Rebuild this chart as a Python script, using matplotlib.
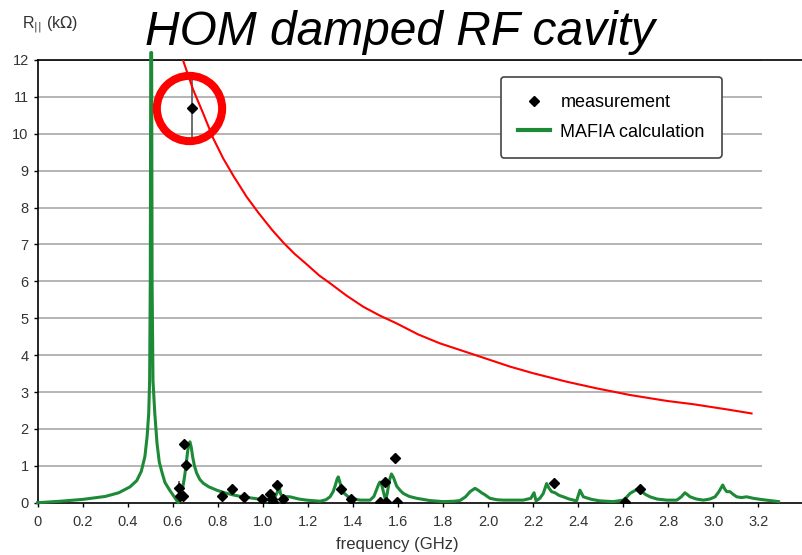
import numpy as np
import matplotlib
matplotlib.use("Agg")
import matplotlib.pyplot as plt

plt.rcParams['font.family'] = ['Liberation Sans', 'DejaVu Sans']

# MAFIA calculation (GHz, kOhm)
mafia_f = [0.0, 0.1, 0.2, 0.3, 0.36, 0.41, 0.44, 0.46, 0.476, 0.486,
           0.493, 0.497, 0.500, 0.502, 0.506, 0.508, 0.512, 0.52, 0.53, 0.54,
           0.553, 0.565, 0.585, 0.602, 0.615, 0.624, 0.635, 0.644, 0.652, 0.658,
           0.665, 0.671, 0.676, 0.682, 0.688, 0.696, 0.706, 0.72, 0.735, 0.76,
           0.795, 0.83, 0.869, 0.91, 0.957, 0.99, 1.017, 1.04, 1.054, 1.065,
           1.073, 1.078, 1.085, 1.12, 1.16, 1.194, 1.254, 1.28, 1.298, 1.312,
           1.322, 1.33, 1.335, 1.342, 1.35, 1.362, 1.379, 1.40, 1.431, 1.476,
           1.493, 1.505, 1.514, 1.52, 1.528, 1.535, 1.545, 1.552, 1.557, 1.564,
           1.571, 1.58, 1.594, 1.61, 1.624, 1.65, 1.683, 1.74, 1.80, 1.85,
           1.875, 1.9, 1.92, 1.942, 1.958, 1.971, 1.985, 2.008, 2.04, 2.067,
           2.11, 2.156, 2.19, 2.204, 2.213, 2.23, 2.245, 2.26, 2.27, 2.282,
           2.297, 2.315, 2.334, 2.36, 2.393, 2.408, 2.423, 2.46, 2.497, 2.556,
           2.60, 2.615, 2.63, 2.66, 2.682, 2.70, 2.719, 2.75, 2.793, 2.838,
           2.858, 2.874, 2.885, 2.897, 2.925, 2.956, 2.985, 3.008, 3.025, 3.042,
           3.052, 3.06, 3.074, 3.09, 3.104, 3.125, 3.148, 3.178, 3.21, 3.237,
           3.265, 3.29]
mafia_R = [0.0, 0.04, 0.09, 0.17, 0.27, 0.43, 0.6, 0.85, 1.25, 1.8,
           2.42, 3.3, 6.0, 12.2, 12.2, 6.0, 3.3, 2.42, 1.6, 1.1,
           0.8, 0.55, 0.35, 0.2, 0.08, 0.0, 0.2, 0.41, 0.7, 0.98,
           1.35, 1.6, 1.65, 1.5, 1.25, 1.0, 0.8, 0.63, 0.53, 0.43,
           0.34, 0.27, 0.21, 0.16, 0.12, 0.09, 0.07, 0.1, 0.16, 0.3,
           0.43, 0.25, 0.17, 0.16, 0.1, 0.07, 0.04, 0.08, 0.16, 0.3,
           0.48, 0.65, 0.7, 0.55, 0.39, 0.25, 0.16, 0.11, 0.07, 0.07,
           0.17, 0.36, 0.5, 0.56, 0.48, 0.3, 0.07, 0.25, 0.43, 0.65,
           0.78, 0.68, 0.45, 0.33, 0.25, 0.17, 0.12, 0.06, 0.03, 0.04,
           0.06, 0.16, 0.3, 0.39, 0.33, 0.27, 0.22, 0.12, 0.08, 0.07,
           0.07, 0.07, 0.12, 0.27, 0.05, 0.12, 0.25, 0.52, 0.4, 0.3,
           0.27, 0.2, 0.16, 0.1, 0.05, 0.34, 0.16, 0.09, 0.05, 0.03,
           0.07, 0.15, 0.25, 0.36, 0.3, 0.22, 0.16, 0.1, 0.07, 0.07,
           0.16, 0.27, 0.22, 0.16, 0.1, 0.07, 0.1, 0.16, 0.3, 0.48,
           0.36, 0.3, 0.3, 0.22, 0.16, 0.14, 0.16, 0.12, 0.09, 0.07,
           0.05, 0.03]

# measured points
meas_f = [0.684, 0.628, 0.63, 0.645, 0.65, 0.658, 0.819, 0.864, 0.916, 0.997, 1.032,
          1.04, 1.045, 1.063, 1.09, 1.345, 1.39, 1.52, 1.542, 1.546, 1.587, 1.597,
          2.293, 2.61, 2.673]
meas_R = [10.69, 0.39, 0.18, 0.17, 1.6, 1.02, 0.18, 0.36, 0.15, 0.09, 0.24,
          0.1, 0.03, 0.48, 0.09, 0.37, 0.1, 0.01, 0.55, 0.01, 1.2, 0.01,
          0.54, 0.01, 0.38]
err_lo = [0.77, 0.32] + [0.0] * 23
err_hi = [0.78, 0.21] + [0.0] * 23

# red threshold curve
limit_f = [0.645, 0.69, 0.735, 0.78, 0.824, 0.87, 0.928, 0.98, 1.04, 1.091,
           1.14, 1.195, 1.25, 1.298, 1.37, 1.446, 1.52, 1.594, 1.69, 1.786,
           1.92, 2.097, 2.20, 2.349, 2.482, 2.63, 2.793, 2.911, 3.06, 3.17]
limit_R = [12.0, 11.2, 10.55, 9.87, 9.33, 8.85, 8.29, 7.86, 7.4, 7.05,
           6.75, 6.46, 6.16, 5.95, 5.62, 5.31, 5.07, 4.86, 4.56, 4.32,
           4.05, 3.69, 3.51, 3.28, 3.10, 2.92, 2.76, 2.67, 2.53, 2.42]

xticks = np.arange(0, 3.21, 0.2)
xlabels = ['0'] + ['%.1f' % v for v in xticks[1:]]

fig = plt.figure(figsize=(8.02, 5.55), dpi=100)
ax = fig.add_axes([0.047, 0.0942, 0.953, 0.7977])
ax.set_xlim(0, 3.394)
ax.set_ylim(0, 12)

ax.hlines(range(1, 13), 0, 3.215, color='#b4b4b4', lw=1.4, zorder=1)

green = '#1d8a37'
ax.plot(mafia_f, mafia_R, color=green, lw=2.2, zorder=3, clip_on=False,
        solid_joinstyle='round', label='MAFIA calculation')
ax.errorbar(meas_f, meas_R, yerr=[err_lo, err_hi], fmt='none', ecolor='#555555',
            elinewidth=1.2, capsize=0, zorder=4)
ax.plot(meas_f, meas_R, 'D', color='black', ms=5.5, ls='none', zorder=5,
        label='measurement')
ax.plot(limit_f, limit_R, color='red', lw=1.5, zorder=6, solid_joinstyle='round')
# red ring around the highest measurement
ax.plot(meas_f[0] - 0.012, meas_R[0], 'o', ms=47, mfc='none', mec='red', mew=5.8,
        zorder=7, clip_on=False)

ax.set_xticks(xticks)
ax.set_xticklabels(xlabels)
ax.set_yticks(range(0, 13))
ax.tick_params(axis='both', labelsize=10.5, labelcolor='#333333', length=3,
               width=1, color='black')
ax.tick_params(axis='x', pad=6)
for side in ['top', 'bottom', 'left']:
    ax.spines[side].set_color('black')
    ax.spines[side].set_linewidth(1.2)
ax.spines['right'].set_visible(False)

handles, labels = ax.get_legend_handles_labels()
leg = ax.legend(handles[::-1], labels[::-1], loc='upper left',
                bbox_to_anchor=(0.606, 0.962), fontsize=13, fancybox=True,
                borderpad=0.95, labelspacing=0.7, handlelength=1.75,
                handletextpad=0.6, borderaxespad=0, framealpha=1)
leg.get_frame().set_edgecolor('#444444')
leg.get_frame().set_linewidth(1.2)
for ln in leg.get_lines():
    if ln.get_label() == 'MAFIA calculation':
        ln.set_linewidth(3)

fig.text(145 / 802, 1 - 45 / 555, 'HOM damped RF cavity', fontsize=34.5,
         style='italic', va='baseline', ha='left')
fig.text(22 / 802, 1 - 25 / 555, r'R$_{||}$ (k$\Omega$)', fontsize=11.5,
         color='#333333', va='center', ha='left')
fig.text(397 / 802, 1 - 545 / 555, 'frequency (GHz)', fontsize=12,
         color='#333333', va='center', ha='center')

fig.savefig('out.png', dpi=100)
